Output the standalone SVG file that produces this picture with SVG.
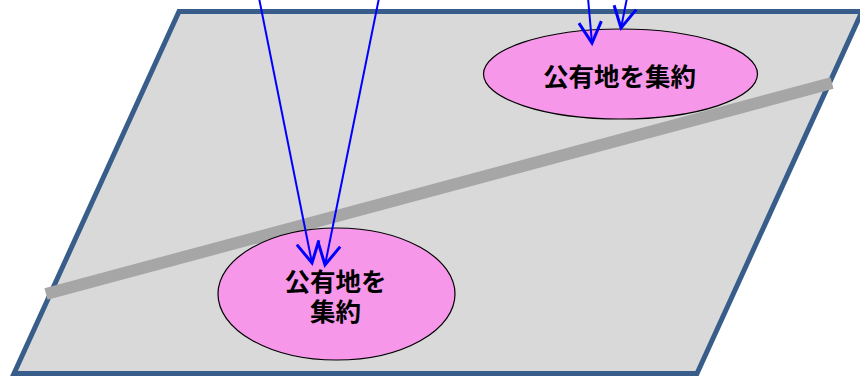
<svg xmlns="http://www.w3.org/2000/svg" width="860" height="376" viewBox="0 0 860 376">
<defs>
<style>
.plot{fill:#d9d9d9;stroke:#385d8a;stroke-width:5;stroke-linejoin:miter}
.road{stroke:#a6a6a6;stroke-width:12;stroke-linecap:butt;fill:none}
.node{fill:#f797ea;stroke:#000;stroke-width:1.2}
.lbl{font-family:"Noto Sans CJK JP","Noto Sans CJK SC",sans-serif;font-size:25.5px;font-weight:bold;fill:#000;text-anchor:middle}
.arr{stroke:#0000ff;stroke-width:2;fill:none;marker-end:url(#open)}
</style>
<marker id="open" markerUnits="userSpaceOnUse" markerWidth="30" markerHeight="30" viewBox="-16 -10 20 20" refX="0" refY="0" orient="auto">
<path d="M-14,-7.5 L0,0 L-14,7.5" fill="none" stroke="#0000ff" stroke-width="2"/>
</marker>
</defs>
<g id="plot">
<polygon class="plot" points="179,11.5 862,11.5 697,373.5 14,373.5"/>
</g>
<g id="road">
<line class="road" x1="46" y1="294" x2="832" y2="83"/>
</g>
<g id="node-top">
<ellipse class="node" cx="620.5" cy="74" rx="137" ry="45"/>
<text class="lbl" x="619.5" y="86">公有地を集約</text>
</g>
<g id="node-bottom">
<ellipse class="node" cx="336.5" cy="294" rx="118.5" ry="66"/>
<text class="lbl" x="335.5" y="291">公有地を<tspan x="335.5" dy="30">集約</tspan></text>
</g>
<g id="connectors">
<line class="arr" x1="259" y1="-2" x2="312" y2="263"/>
<line class="arr" x1="379" y1="-2" x2="325" y2="265"/>
<line class="arr" x1="588" y1="-2" x2="592" y2="43"/>
<line class="arr" x1="627" y1="-2" x2="621" y2="28"/>
</g>
</svg>
